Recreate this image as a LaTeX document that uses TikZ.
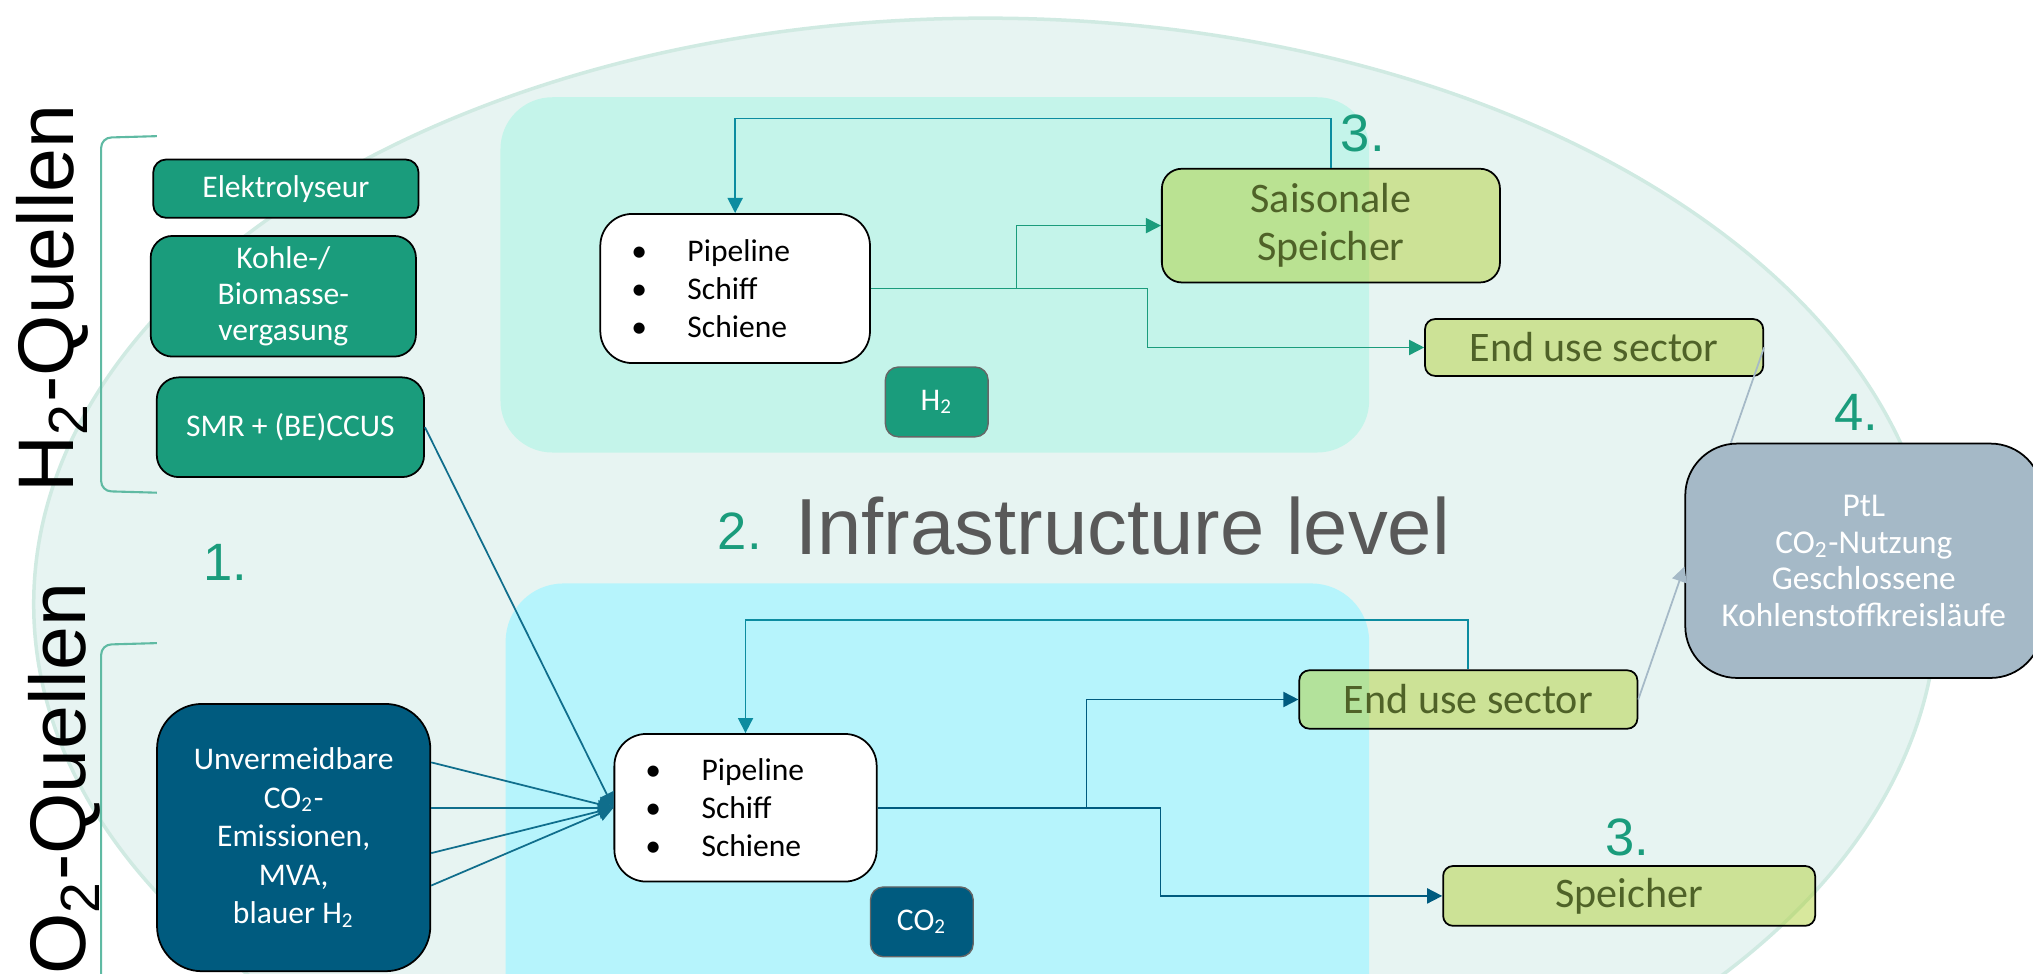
\documentclass[tikz,border=0pt]{standalone}
\usepackage{fontspec}
\setmainfont{Carlito}
\newfontfamily\arialfont{Liberation Sans}
\usepackage{tikz}
\usetikzlibrary{arrows.meta}

\definecolor{h2green}{RGB}{26,156,124}
\definecolor{co2blue}{RGB}{0,91,127}
\definecolor{mintpanel}{RGB}{196,244,234}
\definecolor{cyanpanel}{RGB}{182,244,252}
\definecolor{ovalfill}{RGB}{231,244,242}
\definecolor{ovalline}{RGB}{208,234,226}
\definecolor{boxgreen}{RGB}{178,210,60}
\definecolor{olivetext}{RGB}{79,98,40}
\definecolor{ptlgrey}{RGB}{165,185,199}
\definecolor{loopteal}{RGB}{12,140,160}
\definecolor{co2line}{RGB}{16,110,140}
\definecolor{labelgrey}{RGB}{89,89,89}

\tikzstyle{srcbox} = [rectangle,draw=black,line width=0.5pt,inner sep=0pt,text=white,align=center,font=\fontsize{9}{10.4}\selectfont]
\tikzstyle{h2src} = [srcbox,fill=h2green,rounded corners=0.22cm,minimum width=2.66cm]
\tikzstyle{transport} = [rectangle,draw=black,fill=white,line width=0.5pt,rounded corners=0.32cm,inner xsep=0.312cm,inner ysep=0pt,align=left,font=\fontsize{9}{10.9}\selectfont]
\tikzstyle{tagbox} = [rectangle,draw=black!60,rounded corners=0.13cm,inner sep=0pt,text=white,font=\fontsize{9}{10}\selectfont,minimum height=0.7cm]
\tikzstyle{sinkbox} = [rectangle,draw=black,line width=0.5pt,fill=boxgreen,fill opacity=0.5,text opacity=1,text=olivetext,rounded corners=0.1cm,inner sep=0pt,align=center,font=\fontsize{12}{13.6}\selectfont,minimum width=3.39cm]
\tikzstyle{numlabel} = [text=h2green,inner sep=0pt,font=\arialfont\fontsize{15}{15}\selectfont]
\tikzstyle{quellen} = [rotate=90,inner sep=0pt,font=\arialfont\fontsize{22.5}{22.5}\selectfont]
\tikzstyle{flow} = [line width=0.5pt,-{Triangle[length=4.3pt,width=4.3pt]}]
\tikzstyle{bracketline} = [draw=h2green!70,line width=0.6pt]

\newcommand{\bulitem}[1]{\makebox[16pt][l]{•}#1}

\begin{document}
\begin{tikzpicture}[x=0.013cm,y=-0.013cm]
  \useasboundingbox (0,0) rectangle (1568,751);
  \clip (0,0) rectangle (1568,751);

  % background oval and panels
  \filldraw[fill=ovalfill,draw=ovalline,line width=1pt] (760,466) ellipse [x radius=734, y radius=452];
  \fill[mintpanel,rounded corners=0.52cm] (386,75) rectangle (1056,349);
  \fill[cyanpanel,rounded corners=0.58cm] (390,450) rectangle (1056,800);

  % brackets
  \draw[bracketline] (121,105) -- (86,106) to[out=180,in=90] (78,114) -- (78,371) to[out=-90,in=180] (86,379) -- (121,380);
  \draw[bracketline] (121,496) -- (86,497) to[out=180,in=90] (78,505) -- (78,760);

  \node[quellen,anchor=base west] (hq) at (57,380) {H\textsubscript{2}-Quellen};
  \node[quellen,anchor=base east] (cq) at (66,449) {CO\textsubscript{2}-Quellen};

  % sources
  \node[h2src,minimum height=0.585cm,rounded corners=0.13cm] (elek) at (220.5,145.5) {Elektrolyseur};
  \node[h2src,minimum height=1.21cm] (kohle) at (218.5,228.5) {Kohle-/\\Biomasse-\\vergasung};
  \node[h2src,minimum height=1.0cm,minimum width=2.68cm] (smr) at (224,329.5) {SMR + (BE)CCUS};
  \node[srcbox,fill=co2blue,rounded corners=0.45cm,minimum width=2.74cm,minimum height=2.68cm,font=\fontsize{9}{11}\selectfont] (unv) at (226.5,646) {Unvermeidbare\\CO\textsubscript{2}-\\Emissionen,\\MVA,\\blauer H\textsubscript{2}};

  % transport
  \node[transport,text width=2.08cm,minimum height=1.495cm] (h2trans) at (567,222.5) {\bulitem{Pipeline}\\\bulitem{Schiff}\\\bulitem{Schiene}};
  \node[transport,text width=2.006cm,minimum height=1.48cm] (co2trans) at (575,623) {\bulitem{Pipeline}\\\bulitem{Schiff}\\\bulitem{Schiene}};
  \node[tagbox,fill=h2green,minimum width=1.03cm] (h2tag) at (722.5,310) {H\textsubscript{2}};
  \node[tagbox,fill=co2blue,minimum width=1.03cm] (co2tag) at (711,711) {CO\textsubscript{2}};

  % sinks
  \node[sinkbox,minimum height=1.14cm,rounded corners=0.2cm] (saison) at (1026.5,174) {Saisonale\\Speicher};
  \node[sinkbox,minimum height=0.57cm] (end1) at (1229.5,268) {End use sector};
  \node[sinkbox,minimum height=0.585cm] (end2) at (1132.5,539.5) {End use sector};
  \node[sinkbox,minimum height=0.6cm,minimum width=3.73cm] (speicher) at (1256.5,691) {Speicher};
  \node[srcbox,fill=ptlgrey,rounded corners=0.52cm,minimum width=3.58cm,minimum height=2.35cm,font=\fontsize{9.5}{10.4}\selectfont] (ptl) at (1437.5,432.5) {PtL\\CO\textsubscript{2}-Nutzung\\Geschlossene\\Kohlenstoffkreisläufe};

  % step numbers
  \node[numlabel] (n1) at (174,434) {1.};
  \node[numlabel,anchor=base east] (n2) at (588,424) {2.};
  \node[numlabel] (n3a) at (1051,103) {3.};
  \node[numlabel] (n3b) at (1255,646) {3.};
  \node[numlabel] (n4) at (1432,318) {4.};
  \node[inner sep=0pt,anchor=base west,text=labelgrey,font=\arialfont\fontsize{22.7}{22.7}\selectfont] (infra) at (613,428) {Infrastructure level};

  % H2 routes
  \draw[flow,h2green] (h2trans.east) -- (784,222.5) |- (saison.west);
  \draw[flow,h2green] (h2trans.east) -- (885,222.5) |- (end1.west);
  \draw[flow,loopteal] (saison.north) -- ++(0,-38) -| (h2trans.north);

  % CO2 routes
  \foreach \y in {588,623,658,683}
    \draw[flow,co2line] (unv.east |- 0,\y) -- (co2trans.west);
  \draw[flow,co2line] (smr.east) -- (co2trans.west);
  \draw[flow,co2blue] (co2trans.east) -- (838,623) |- (end2.west);
  \draw[flow,co2blue] (co2trans.east) -- (895,623) |- (speicher.west);
  \draw[flow,loopteal] (end2.north) -- ++(0,-38) -| (co2trans.north);

  % to PtL
  \draw[ptlgrey,line width=0.5pt] (end1.east) -- (1335,0 |- ptl.north);
  \draw[flow,ptlgrey] (end2.east) -- (ptl.west |- 0,437);
\end{tikzpicture}
\end{document}
